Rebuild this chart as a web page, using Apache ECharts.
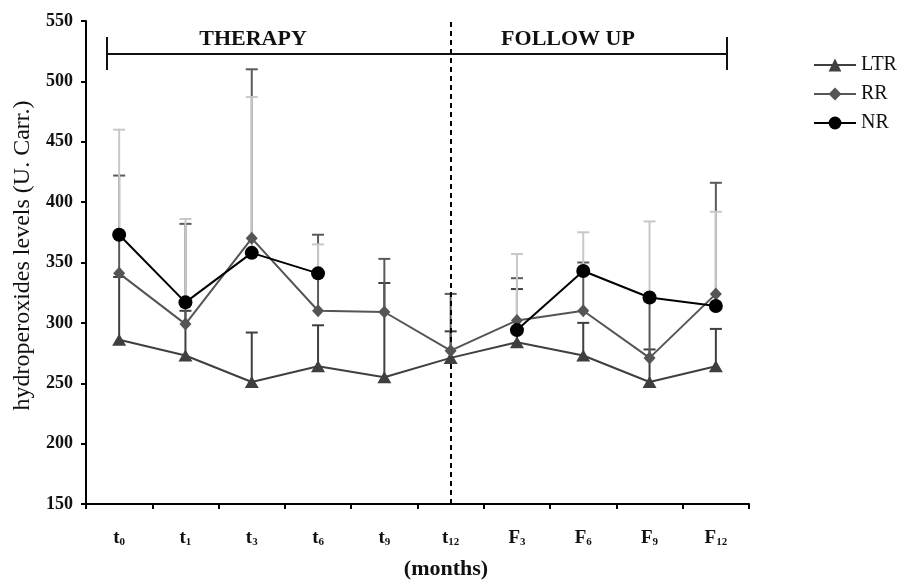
<!DOCTYPE html>
<html>
<head>
<meta charset="utf-8">
<script src="https://cdn.jsdelivr.net/npm/echarts@6/dist/echarts.min.js"></script>
<style>
html,body{margin:0;padding:0;background:#fff;}
#chart{width:897px;height:580px;}
</style>
</head>
<body>
<div id="chart"></div>
<script>
// ---- data ----
var categories = ['t0','t1','t3','t6','t9','t12','F3','F6','F9','F12'];
var catMain = ['t','t','t','t','t','t','F','F','F','F'];
var catSub  = ['0','1','3','6','9','12','3','6','9','12'];
var yTicks = [150, 200, 250, 300, 350, 400, 450, 500, 550];

var LTR = [286, 273, 251, 264, 255, 271, 284, 273, 251, 264];
var RR  = [341, 299, 370, 310, 309, 277, 302, 310, 271, 324];
var NR  = [373, 317, 358, 341, null, null, 294, 343, 321, 314];

// upper ends of error bars
var LTRup = [338, 310, 292, 298, 333, 293, 328, 300, 278, 295];
var RRup  = [422, 382, 510, 373, 353, 324, 337, 350, 318, 416];
var NRup  = [460, 386, 487, 365, null, null, 357, 375, 384, 392];

var chart = echarts.init(document.getElementById('chart'));
var FONT = '"Liberation Serif", "Times New Roman", serif';

function errSeries(name, vals, ups, color, z) {
  var d = [];
  for (var i = 0; i < vals.length; i++) {
    if (vals[i] != null && ups[i] != null) d.push([i, vals[i], ups[i]]);
  }
  return {
    type: 'custom',
    name: name + ' err',
    z: z,
    silent: true,
    data: d,
    encode: { x: 0, y: [1, 2] },
    renderItem: function (params, api) {
      var x = api.value(0);
      var p0 = api.coord([x, api.value(1)]);
      var p1 = api.coord([x, api.value(2)]);
      var hw = 6;
      var st = { stroke: color, lineWidth: 2 };
      return {
        type: 'group',
        children: [
          { type: 'line', shape: { x1: p0[0], y1: p0[1], x2: p1[0], y2: p1[1] }, style: st },
          { type: 'line', shape: { x1: p1[0] - hw, y1: p1[1], x2: p1[0] + hw, y2: p1[1] }, style: st }
        ]
      };
    }
  };
}

var option = {
  animation: false,
  backgroundColor: '#ffffff',
  grid: { left: 86, right: 148, top: 21, bottom: 76 },
  legend: {
    orient: 'vertical',
    left: 808,
    top: 50,
    itemWidth: 42,
    itemHeight: 16,
    itemGap: 9,
    data: ['LTR', 'RR', 'NR'],
    textStyle: { fontFamily: FONT, fontSize: 20, color: '#111' }
  },
  xAxis: {
    type: 'category',
    data: categories,
    boundaryGap: true,
    axisLine: { lineStyle: { color: '#000', width: 2 } },
    axisTick: { show: true, inside: false, length: 5, interval: 0, lineStyle: { color: '#000', width: 2 } },
    axisLabel: {
      interval: 0,
      margin: 22,
      formatter: function (v, i) {
        return '{a|' + catMain[i] + '}{b|' + catSub[i] + '}';
      },
      rich: {
        a: { fontFamily: FONT, fontWeight: 'bold', fontSize: 19, color: '#111', lineHeight: 22, verticalAlign: 'bottom' },
        b: { fontFamily: FONT, fontWeight: 'bold', fontSize: 11, color: '#111', lineHeight: 12, verticalAlign: 'bottom' }
      }
    },
    splitLine: { show: false }
  },
  yAxis: {
    type: 'value',
    min: yTicks[0],
    max: yTicks[yTicks.length - 1],
    interval: 50,
    name: 'hydroperoxides levels (U. Carr.)',
    nameLocation: 'middle',
    nameGap: 50,
    nameTextStyle: { fontFamily: FONT, fontSize: 24, color: '#111', padding: [0, 0, 0, 14] },
    axisLine: { show: true, lineStyle: { color: '#000', width: 2 } },
    axisTick: { show: true, length: 5, lineStyle: { color: '#000', width: 2 } },
    axisLabel: { margin: 13, fontFamily: FONT, fontWeight: 'bold', fontSize: 18, color: '#111' },
    splitLine: { show: false }
  },
  graphic: [
    { type: 'line', shape: { x1: 107, y1: 54, x2: 727, y2: 54 }, style: { stroke: '#111', lineWidth: 2 }, z: 10 },
    { type: 'line', shape: { x1: 107, y1: 37, x2: 107, y2: 70 }, style: { stroke: '#111', lineWidth: 2 }, z: 10 },
    { type: 'line', shape: { x1: 727, y1: 37, x2: 727, y2: 70 }, style: { stroke: '#111', lineWidth: 2 }, z: 10 },
    { type: 'text', x: 253, y: 39, style: { text: 'THERAPY', fontFamily: FONT, fontWeight: 'bold', fontSize: 22, fill: '#111', textAlign: 'center', textVerticalAlign: 'middle' }, z: 10 },
    { type: 'text', x: 568, y: 39, style: { text: 'FOLLOW UP', fontFamily: FONT, fontWeight: 'bold', fontSize: 22, fill: '#111', textAlign: 'center', textVerticalAlign: 'middle' }, z: 10 },
    { type: 'text', x: 446, y: 569, style: { text: '(months)', fontFamily: FONT, fontWeight: 'bold', fontSize: 22, fill: '#111', textAlign: 'center', textVerticalAlign: 'middle' }, z: 10 }
  ],
  series: [
    errSeries('LTR', LTR, LTRup, '#3f3f3f', 2),
    errSeries('RR', RR, RRup, '#5a5a5a', 3),
    errSeries('NR', NR, NRup, '#c8c8c8', 4),
    {
      name: 'LTR', type: 'line', data: LTR, z: 6,
      symbol: 'triangle', symbolSize: [14, 12],
      itemStyle: { color: '#3f3f3f' },
      lineStyle: { color: '#3f3f3f', width: 2 },
      markLine: {
        silent: true, symbol: 'none', label: { show: false },
        lineStyle: { color: '#000', type: [5, 4], width: 2 },
        data: [{ xAxis: 't12' }]
      }
    },
    {
      name: 'RR', type: 'line', data: RR, z: 7,
      symbol: 'diamond', symbolSize: [12, 13],
      itemStyle: { color: '#555555' },
      lineStyle: { color: '#555555', width: 2 }
    },
    {
      name: 'NR', type: 'line', data: NR, z: 8, connectNulls: false,
      symbol: 'circle', symbolSize: 14,
      itemStyle: { color: '#000000' },
      lineStyle: { color: '#000000', width: 2 }
    }
  ]
};
chart.setOption(option);
</script>
</body>
</html>
